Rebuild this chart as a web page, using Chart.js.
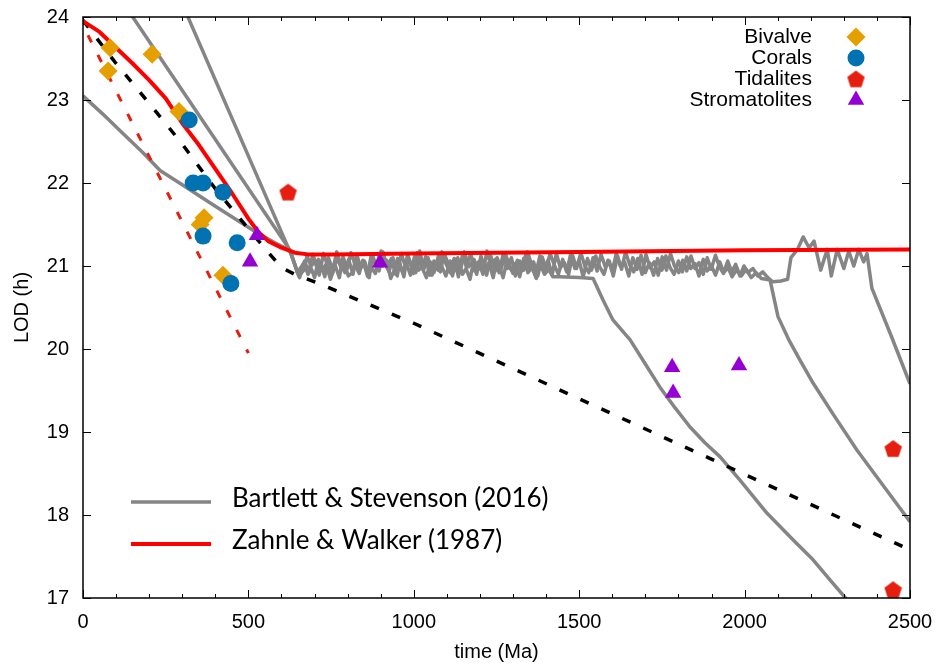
<!DOCTYPE html>
<html>
<head>
<meta charset="utf-8">
<script src="https://cdn.jsdelivr.net/npm/chart.js@4.4.1/dist/chart.umd.min.js"></script>
<style>
  body { margin: 0; background: #fff; }
  canvas { display: block; }
</style>
</head>
<body>
<canvas id="lodChart" width="938" height="666"></canvas>
<script>
// proxy data (time in Ma, length of day in hours)
const bivalveTime = [82, 76, 209, 290, 366, 354, 423];
const bivalveLod = [23.63, 23.35, 23.55, 22.86, 21.58, 21.5, 20.89];
const coralTime = [321, 333, 363, 423, 363, 466, 447];
const coralLod = [22.76, 22.0, 22.0, 21.89, 21.36, 21.28, 20.79];
const tidaliteTime = [620, 2449, 2449];
const tidaliteLod = [21.89, 18.8, 17.1];
const stromTime = [526, 505, 898, 1781, 1784, 1983];
const stromLod = [21.37, 21.05, 21.04, 19.78, 19.47, 19.8];

// Zahnle & Walker (1987)
const zahnleWalker = [[0, 23.95], [50, 23.82], [100, 23.63], [150, 23.44], [200, 23.24], [250, 23.02],
  [300, 22.72], [350, 22.46], [400, 22.17], [450, 21.88], [500, 21.57], [530, 21.41], [560, 21.3],
  [600, 21.22], [640, 21.16], [680, 21.14], [750, 21.14], [1000, 21.15], [1500, 21.17], [2000, 21.19], [2500, 21.2]];

// black dashed fit and red dashed fit
const blackFit = [[0, 23.96], [100, 23.44], [200, 22.96], [300, 22.47], [400, 21.93], [500, 21.45],
  [550, 21.21], [600, 20.98], [640, 20.9], [700, 20.81], [1000, 20.31], [1500, 19.4], [2000, 18.49], [2500, 17.58]];
const redFit = [[15, 23.78], [500, 19.95]];

// Bartlett & Stevenson (2016) runs
const bsRun1 = [[0, 23.05], [60, 22.83], [120, 22.6], [180, 22.37], [233, 22.15], [300, 21.98], [400, 21.72],
  [514, 21.43], [580, 21.28], [626, 21.19], [648, 20.92],
  [668, 21.04], [680, 20.9], [690, 20.97], [700, 20.86], [712, 21.08], [722, 20.95], [735, 21.02], [748, 20.84],
  [756, 20.93], [768, 21.1], [780, 20.98], [789, 21.05], [802, 20.88], [815, 20.92], [826, 21.12], [835, 20.97],
  [850, 21.06], [862, 20.87], [870, 20.99], [884, 20.91], [896, 21.14], [905, 21.0], [918, 21.07], [930, 20.85],
  [942, 20.96], [951, 21.09], [966, 20.93], [978, 21.03], [990, 20.89], [1002, 21.11], [1015, 20.95], [1024, 20.99],
  [1038, 20.86], [1050, 21.05], [1061, 20.92], [1075, 21.13], [1086, 20.98], [1097, 20.88], [1110, 21.06],
  [1122, 20.94], [1133, 21.1], [1147, 20.9], [1158, 20.97], [1170, 20.84], [1182, 21.08], [1195, 20.96],
  [1206, 21.04], [1220, 20.89], [1233, 21.12], [1244, 20.93], [1258, 21.0], [1270, 20.86], [1282, 21.07],
  [1295, 20.95], [1306, 21.03], [1320, 20.87], [1332, 21.09], [1345, 20.92], [1357, 20.98], [1370, 20.85],
  [1383, 21.02], [1395, 20.9], [1408, 20.96], [1420, 20.87], [1440, 20.87], [1500, 20.86], [1542, 20.85],
  [1572, 20.59], [1602, 20.35], [1654, 20.11], [1700, 19.82], [1744, 19.54], [1790, 19.29], [1835, 19.06],
  [1880, 18.87], [1926, 18.7], [1986, 18.42], [2068, 18.02], [2147, 17.7], [2207, 17.46], [2260, 17.21],
  [2303, 17.01], [2330, 16.87]];

const bsRun2 = [[130, 24.12], [626, 21.19], [652, 20.88],
  [668, 20.95], [677, 21.12], [690, 21.0], [702, 21.07], [714, 20.89], [727, 21.15], [738, 21.02], [752, 20.9],
  [763, 21.0], [775, 20.86], [786, 21.11], [799, 20.97], [810, 21.16], [823, 21.01], [835, 20.91], [846, 21.07],
  [860, 20.88], [871, 21.13], [884, 21.04], [895, 20.94], [907, 21.17], [918, 20.99], [932, 21.09], [945, 20.9],
  [956, 21.05], [970, 20.87], [981, 21.14], [993, 21.0], [1006, 20.92], [1018, 21.18], [1030, 20.96], [1043, 21.1],
  [1055, 20.89], [1068, 21.03], [1080, 20.93], [1092, 21.15], [1105, 21.02], [1117, 20.88], [1128, 21.08],
  [1141, 20.95], [1153, 21.17], [1166, 20.99], [1178, 21.06], [1190, 20.9], [1203, 21.12], [1215, 20.97],
  [1227, 21.04], [1240, 20.86], [1252, 21.1], [1264, 20.96], [1276, 21.16], [1289, 21.0], [1300, 20.91],
  [1313, 21.07], [1326, 20.94], [1338, 21.13], [1350, 20.98], [1362, 21.05], [1375, 20.88], [1388, 21.11],
  [1400, 20.96], [1412, 21.15], [1425, 21.01], [1437, 20.9], [1450, 21.08], [1462, 20.93], [1474, 21.14],
  [1487, 20.97], [1500, 21.06], [1512, 20.87], [1525, 21.09], [1537, 20.95], [1550, 21.12], [1562, 20.99],
  [1575, 20.9], [1587, 21.07], [1600, 20.94], [1612, 21.15], [1624, 21.0], [1637, 21.05], [1650, 20.88],
  [1662, 21.1], [1675, 20.96], [1687, 21.13], [1700, 20.92], [1712, 21.04], [1725, 20.89], [1737, 21.09],
  [1750, 20.95], [1762, 21.12], [1775, 20.98], [1787, 20.9], [1800, 21.06], [1812, 20.93], [1825, 21.11],
  [1837, 20.97], [1850, 21.03], [1862, 20.88], [1875, 21.08], [1887, 20.94], [1900, 21.0], [1912, 20.89],
  [1925, 21.05], [1937, 20.92], [1950, 20.98], [1962, 20.87], [1975, 20.95], [1990, 20.88], [2005, 20.96],
  [2020, 20.86], [2035, 20.92], [2050, 20.85], [2065, 20.84], [2077, 20.83],
  [2101, 20.39], [2135, 20.1], [2167, 19.87], [2207, 19.59], [2270, 19.2], [2340, 18.78], [2420, 18.35], [2500, 17.92]];

const bsRun3 = [[290, 24.25], [626, 21.17], [655, 20.86],
  [670, 21.06], [682, 20.93], [695, 21.14], [706, 20.99], [718, 21.04], [731, 20.87], [742, 21.1], [755, 20.95],
  [767, 21.17], [779, 21.02], [792, 20.92], [803, 21.08], [816, 20.9], [828, 21.13], [840, 20.98], [852, 21.05],
  [865, 20.86], [876, 21.12], [889, 20.96], [901, 21.18], [913, 21.03], [925, 20.93], [937, 21.1], [950, 20.88],
  [962, 21.15], [974, 21.0], [987, 21.07], [999, 20.91], [1011, 21.16], [1024, 20.97], [1036, 21.11], [1048, 20.89],
  [1061, 21.06], [1073, 20.95], [1085, 21.17], [1098, 21.02], [1110, 20.92], [1122, 21.09], [1135, 20.87],
  [1147, 21.13], [1159, 20.99], [1172, 21.15], [1184, 20.94], [1196, 21.05], [1209, 20.9], [1221, 21.18],
  [1233, 21.01], [1246, 21.08], [1258, 20.92], [1270, 21.14], [1283, 20.97], [1295, 21.1], [1307, 20.88],
  [1320, 21.06], [1332, 20.95], [1344, 21.17], [1357, 21.0], [1369, 20.91], [1381, 21.12], [1394, 20.96],
  [1406, 21.07], [1418, 20.89], [1431, 21.15], [1443, 20.98], [1455, 21.04], [1468, 20.9], [1480, 21.13],
  [1492, 20.97], [1505, 21.16], [1517, 21.0], [1529, 20.92], [1542, 21.1], [1554, 20.94], [1566, 21.14],
  [1579, 20.99], [1591, 21.06], [1603, 20.88], [1616, 21.12], [1628, 20.96], [1640, 21.17], [1653, 21.01],
  [1665, 20.93], [1677, 21.09], [1690, 20.9], [1702, 21.14], [1714, 20.98], [1727, 21.05], [1739, 20.89],
  [1751, 21.11], [1764, 20.95], [1776, 21.15], [1788, 21.0], [1801, 20.92], [1813, 21.07], [1825, 20.94],
  [1838, 21.12], [1850, 20.97], [1862, 21.04], [1875, 20.9], [1887, 21.1], [1899, 20.96], [1912, 21.13],
  [1924, 20.99], [1936, 20.91], [1949, 21.06], [1961, 20.93], [1973, 21.02], [1986, 20.88], [1998, 21.0],
  [2010, 20.92], [2025, 20.97], [2040, 20.88], [2055, 20.93], [2070, 20.86], [2085, 20.81], [2110, 20.82],
  [2130, 20.84], [2140, 21.1], [2160, 21.2], [2177, 21.35], [2195, 21.22], [2210, 21.3], [2230, 20.95],
  [2250, 21.2], [2262, 20.88], [2280, 21.2], [2300, 20.97], [2315, 21.18], [2330, 21.0], [2345, 21.2],
  [2360, 21.05], [2370, 21.15], [2385, 20.73], [2440, 20.19], [2500, 19.58]];

const GRAY = '#858585';
const tickFont = { family: 'Liberation Sans, Arial, sans-serif', size: 20 };

function pentagon(color, r) {
  const c = document.createElement('canvas');
  const s = Math.ceil(r * 2 + 2);
  c.width = s; c.height = s;
  const g = c.getContext('2d');
  g.fillStyle = color;
  g.beginPath();
  for (let i = 0; i < 5; i++) {
    const a = -Math.PI / 2 + i * 2 * Math.PI / 5;
    const px = s / 2 + r * Math.cos(a), py = s / 2 + r * Math.sin(a) + 0.8;
    if (i) g.lineTo(px, py); else g.moveTo(px, py);
  }
  g.closePath();
  g.fill();
  return c;
}

const toXY = (t, v) => t.map((x, i) => ({ x: x, y: v[i] }));
const pairs = p => p.map(d => ({ x: d[0], y: d[1] }));

const markers = [
  { label: 'Bivalve', data: toXY(bivalveTime, bivalveLod), color: '#e69f00', style: 'rectRot', radius: 9.5, order: 3 },
  { label: 'Corals', data: toXY(coralTime, coralLod), color: '#0072b2', style: 'circle', radius: 8.5, order: 2 },
  { label: 'Tidalites', data: toXY(tidaliteTime, tidaliteLod), color: '#e51e10', style: pentagon('#e51e10', 9.2), radius: 9, order: 1 },
  { label: 'Stromatolites', data: toXY(stromTime, stromLod), color: '#9400d3', style: 'triangle', radius: 9.5, order: 0 }
];

function lineSet(label, data, color, width, dash, order) {
  return {
    label: label, data: pairs(data), showLine: true, borderColor: color, borderWidth: width,
    borderDash: dash, pointRadius: 0, tension: 0, order: order, clip: 0, borderJoinStyle: 'round'
  };
}

const datasets = markers.map(m => ({
  label: m.label, data: m.data, backgroundColor: m.color, borderWidth: 0,
  pointStyle: m.style, pointRadius: m.radius, order: m.order, clip: false
})).concat([
  lineSet('Zahnle & Walker (1987)', zahnleWalker, '#ff0000', 4, [], 4),
  lineSet('fit', blackFit, '#000000', 3.5, [9, 14], 5),
  lineSet('fit2', redFit, '#e51e10', 3, [8, 14], 6),
  lineSet('Bartlett & Stevenson (2016)', bsRun1, GRAY, 3.5, [], 7),
  lineSet('run2', bsRun2, GRAY, 3.5, [], 7),
  lineSet('run3', bsRun3, GRAY, 3.5, [], 7)
]);

const framePlugin = {
  id: 'frame',
  afterDraw(chart) {
    const { ctx, chartArea: a, scales: { x, y } } = chart;
    ctx.save();
    // inward ticks on all four sides
    ctx.strokeStyle = '#000';
    ctx.lineWidth = 1;
    ctx.beginPath();
    const xs = x.ticks.map(t => t.value);
    const step = xs[1] - xs[0];
    for (let t = x.min; t <= x.max; t += step / 5) {
      const px = Math.round(x.getPixelForValue(t)) + 0.5;
      const len = Math.abs(t % step) < 1e-6 ? 8 : 4;
      ctx.moveTo(px, a.bottom); ctx.lineTo(px, a.bottom - len);
      ctx.moveTo(px, a.top); ctx.lineTo(px, a.top + len);
    }
    y.ticks.forEach(t => {
      const py = Math.round(y.getPixelForValue(t.value)) + 0.5;
      ctx.moveTo(a.left, py); ctx.lineTo(a.left + 8, py);
      ctx.moveTo(a.right, py); ctx.lineTo(a.right - 8, py);
    });
    ctx.stroke();
    ctx.lineWidth = 1.5;
    ctx.strokeRect(a.left, a.top, a.right - a.left, a.bottom - a.top);

    // axis titles
    ctx.fillStyle = '#000';
    ctx.font = '20px "Liberation Sans", Arial, sans-serif';
    ctx.textAlign = 'center';
    ctx.textBaseline = 'middle';
    ctx.fillText('time (Ma)', (a.left + a.right) / 2, 652);
    ctx.save();
    ctx.translate(22, (a.top + a.bottom) / 2);
    ctx.rotate(-Math.PI / 2);
    ctx.fillText('LOD (h)', 0, 0);
    ctx.restore();

    // marker key, top right
    ctx.font = '21px "Liberation Sans", Arial, sans-serif';
    ctx.textAlign = 'right';
    markers.forEach((m, i) => {
      const yy = 37 + i * 21;
      ctx.fillStyle = '#000';
      ctx.fillText(m.label, 812, yy);
      ctx.fillStyle = m.color;
      Chart.helpers.drawPoint(ctx, { pointStyle: m.style, radius: m.radius, rotation: 0, borderWidth: 0 }, 856, yy);
    });

    // model key, bottom left
    const keys = [['Bartlett & Stevenson (2016)', GRAY, 3.5], ['Zahnle & Walker (1987)', '#ff0000', 4]];
    ctx.textAlign = 'left';
    ctx.textBaseline = 'alphabetic';
    ctx.font = '26px Lato, "Open Sans", sans-serif';
    keys.forEach((k, i) => {
      const ly = 502 + i * 42;
      ctx.strokeStyle = k[1];
      ctx.lineWidth = k[2];
      ctx.beginPath();
      ctx.moveTo(131, ly); ctx.lineTo(211, ly);
      ctx.stroke();
      ctx.fillStyle = '#000';
      ctx.fillText(k[0], 232, ly + 5);
    });
    ctx.restore();
  }
};

new Chart(document.getElementById('lodChart'), {
  type: 'scatter',
  data: { datasets: datasets },
  options: {
    responsive: false,
    animation: false,
    layout: { padding: { top: 17, right: 28, left: 0, bottom: 0 } },
    plugins: { legend: { display: false }, tooltip: { enabled: false } },
    scales: {
      x: {
        type: 'linear', min: 0, max: 2500,
        ticks: { stepSize: 500, padding: 12, color: '#000', font: tickFont, maxRotation: 0, callback: v => String(v) },
        grid: { display: false, drawTicks: false },
        border: { display: false },
        afterFit(s) { s.height = 68; s.paddingLeft = 0; s.paddingRight = 0; }
      },
      y: {
        type: 'linear', min: 17, max: 24,
        ticks: { stepSize: 1, padding: 14, color: '#000', font: tickFont, callback: v => String(v) },
        grid: { display: false, drawTicks: false },
        border: { display: false },
        afterFit(s) { s.width = 83; s.paddingTop = 0; s.paddingBottom = 0; }
      }
    }
  },
  plugins: [framePlugin]
});
</script>
</body>
</html>
